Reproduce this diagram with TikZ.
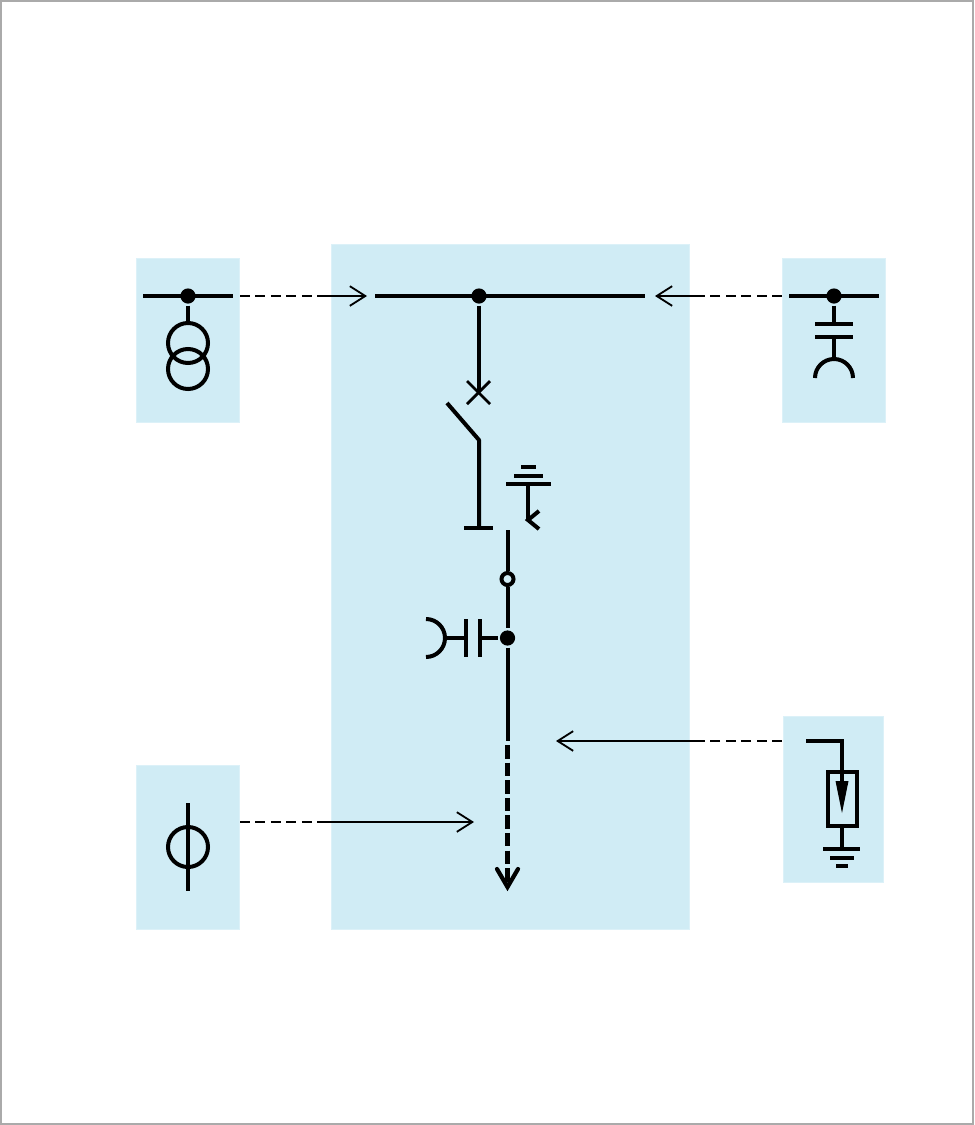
\documentclass[tikz,border=0pt]{standalone}
\usepackage{amsmath}
\usepackage{amssymb}
\usetikzlibrary{arrows.meta}

\definecolor{panel}{RGB}{208,236,245}
\definecolor{paneledge}{RGB}{220,241,248}
\definecolor{frameline}{RGB}{170,170,170}

\begin{document}
\begin{tikzpicture}[x = 0.025cm, y = -0.025cm, line width = 2.85pt,
                        panelbox/.style = {draw = paneledge, fill = panel, line width = 0.6pt},
                        solid/.style = {circle, fill = black, inner sep = 0pt, minimum size = 0.38cm},
                        empty/.style = {circle, draw, fill = panel, inner sep = 0pt, minimum size = 0.3cm},
                        ring/.style = {circle, draw, inner sep = 0pt, minimum size = 1cm},
                        busbar/.style = {line width = 3.1pt},
                        feeder/.style = {line width = 1.3pt, -{Straight Barb[length = 11pt, width = 14pt]}},
                        link/.style = {line width = 1.4pt, dash pattern = on 7pt off 4pt},
                        outgoing/.style = {line width = 3pt, dash pattern = on 9.6pt off 2.9pt, dash phase = 9.6pt}]
      \useasboundingbox (0, 0) rectangle (974, 1125);
      \draw [frameline, line width = 1.4pt, fill = white] (1, 1) rectangle (973, 1124);

      \draw [panelbox] (136, 258) rectangle (239.5, 422.5);
      \draw [panelbox] (331, 244) rectangle (689.5, 929.5);
      \draw [panelbox] (136, 765) rectangle (239.5, 929.5);
      \draw [panelbox] (782, 258) rectangle (885.5, 422.5);
      \draw [panelbox] (783, 716) rectangle (883.5, 882.5);

      % incoming transformer
      \coordinate (t1) at (143, 296);
      \coordinate (t2) at (233, 296);
      \node [solid] (t3) at (188, 296){};
      \node [ring] (t4) at (188, 343){};
      \node [ring] (t5) at (188, 369){};
      \draw [busbar] (t1) -- (t2);
      \draw (t3) -- (t4);

      % capacitor bank
      \coordinate (c1) at (789, 296);
      \coordinate (c2) at (879, 296);
      \node [solid] (c3) at (834, 296){};
      \coordinate (c4) at (834, 324);
      \coordinate (c5) at (815, 324);
      \coordinate (c6) at (853, 324);
      \coordinate (c7) at (834, 337);
      \coordinate (c8) at (815, 337);
      \coordinate (c9) at (853, 337);
      \coordinate (c10) at (834, 359);
      \coordinate (c11) at (815, 378);
      \draw [busbar] (c1) -- (c2);
      \draw (c3) -- (c4);
      \draw (c5) -- (c6);
      \draw (c8) -- (c9);
      \draw (c7) -- (c10);
      \draw (c11) arc [start angle = 180, end angle = 360, radius = 19];

      % main busbar and switch
      \coordinate (b1) at (375, 296);
      \coordinate (b2) at (645, 296);
      \node [solid] (b3) at (479, 296){};
      \coordinate (b4) at (479, 392);
      \coordinate (b5) at (467, 381);
      \coordinate (b6) at (490, 404);
      \coordinate (b7) at (490, 381);
      \coordinate (b8) at (467, 404);
      \coordinate (b9) at (447, 403);
      \coordinate (b10) at (479, 440);
      \coordinate (b11) at (479, 528);
      \coordinate (b12) at (464, 528);
      \coordinate (b13) at (493, 528);
      \draw [busbar] (b1) -- (b2);
      \draw (b3) -- (b4);
      \draw [line width = 2pt] (b5) -- (b6);
      \draw [line width = 2pt] (b7) -- (b8);
      \draw [line join = round] (b9) -- (b10) -- (b11);
      \draw (b12) -- (b13);

      % earthing switch
      \coordinate (e1) at (521, 467);
      \coordinate (e2) at (536, 467);
      \coordinate (e3) at (514, 476);
      \coordinate (e4) at (543, 476);
      \coordinate (e5) at (506, 484);
      \coordinate (e6) at (551, 484);
      \coordinate (e7) at (528, 484);
      \coordinate (e8) at (528, 520);
      \coordinate (e9) at (539, 511);
      \coordinate (e10) at (539, 529);
      \draw (e1) -- (e2);
      \draw (e3) -- (e4);
      \draw (e5) -- (e6);
      \draw (e7) -- (e8);
      \draw (e9) -- (e8) -- (e10);

      % cable side
      \coordinate (f1) at (507.5, 530);
      \node [empty] (f2) at (507.5, 579){};
      \node [solid] (f3) at (507.5, 638){};
      \coordinate (f4) at (507.5, 741);
      \coordinate (f5) at (507.5, 887);
      \coordinate (f6) at (479.5, 638);
      \coordinate (f7) at (479.5, 619);
      \coordinate (f8) at (479.5, 657);
      \coordinate (f9) at (466, 638);
      \coordinate (f10) at (466, 619);
      \coordinate (f11) at (466, 657);
      \coordinate (f12) at (445, 638);
      \coordinate (f13) at (426, 619);
      \draw (f1) -- (f2);
      \draw (f2) -- (f3);
      \draw (f3) -- (f4);
      \draw [outgoing] (f4) -- (f5);
      \draw [line width = 3pt, line cap = round] (497, 869) -- (f5) -- (518, 869);
      \draw (f3) -- (f6);
      \draw (f7) -- (f8);
      \draw (f10) -- (f11);
      \draw (f9) -- (f12);
      \draw (f13) arc [start angle = -90, end angle = 90, radius = 19];

      % current transformer
      \node [ring] (m1) at (188, 847){};
      \coordinate (m2) at (188, 803);
      \coordinate (m3) at (188, 891);
      \draw (m2) -- (m3);

      % surge arrester
      \coordinate (s1) at (806, 741);
      \coordinate (s2) at (842, 741);
      \coordinate (s3) at (842, 785);
      \coordinate (s4) at (842, 827);
      \coordinate (s5) at (842, 849);
      \coordinate (s6) at (823, 849);
      \coordinate (s7) at (860, 849);
      \coordinate (s8) at (830, 858);
      \coordinate (s9) at (854, 858);
      \coordinate (s10) at (836, 866);
      \coordinate (s11) at (848, 866);
      \draw (s1) -- (s2) -- (s3);
      \draw (828, 771.5) rectangle (856.5, 826);
      \fill (835.5, 781) -- (848.5, 781) -- (842, 813) -- cycle;
      \draw (s4) -- (s5);
      \draw (s6) -- (s7);
      \draw (s8) -- (s9);
      \draw (s10) -- (s11);

      % links between the panels
      \coordinate (l1) at (240, 296);
      \coordinate (l2) at (318, 296);
      \coordinate (l3) at (367, 296);
      \coordinate (l4) at (782, 296);
      \coordinate (l5) at (695, 296);
      \coordinate (l6) at (655, 296);
      \coordinate (l7) at (240, 822);
      \coordinate (l8) at (320, 822);
      \coordinate (l9) at (474, 822);
      \coordinate (l10) at (782, 741);
      \coordinate (l11) at (695, 741);
      \coordinate (l12) at (556, 741);
      \draw [link] (l1) -- (l2);
      \draw [feeder] (l2) -- (l3);
      \draw [link] (l4) -- (l5);
      \draw [feeder] (l5) -- (l6);
      \draw [link] (l7) -- (l8);
      \draw [feeder] (l8) -- (l9);
      \draw [link] (l10) -- (l11);
      \draw [feeder] (l11) -- (l12);

      \end{tikzpicture}
\end{document}
